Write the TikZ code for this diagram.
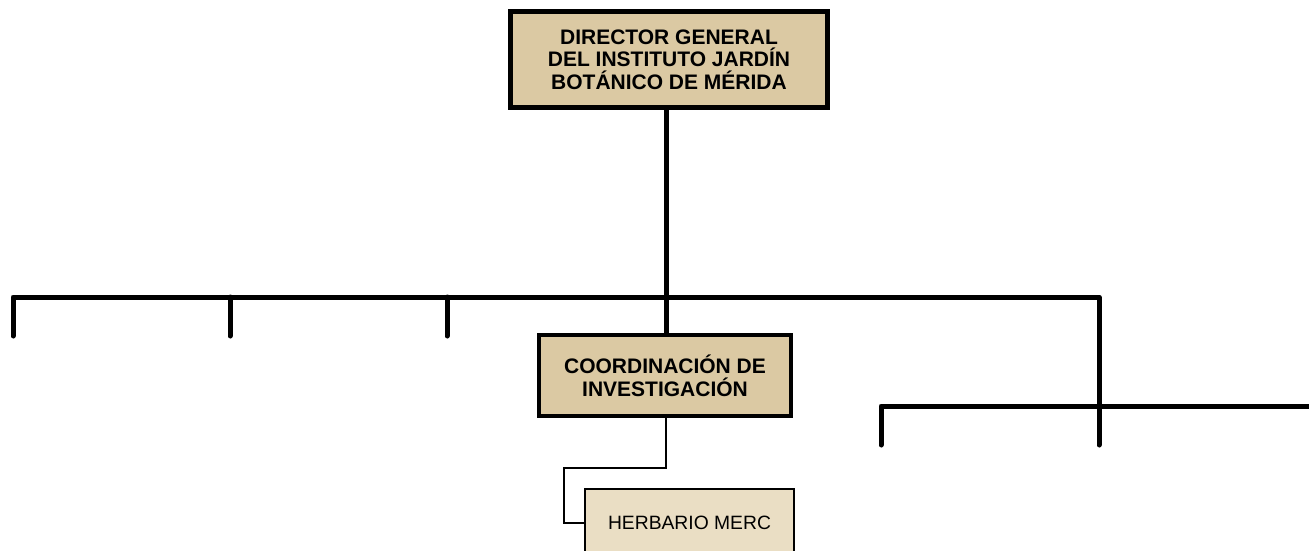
\documentclass[tikz,border=0pt]{standalone}
\usepackage{fontspec}
\setmainfont{Liberation Sans}
\begin{document}
\begin{tikzpicture}[x=1pt,y=-1pt,
  boxa/.style={draw=black, line width=5pt, fill=tanfill, inner sep=0pt, align=center,
    font=\fontsize{21}{22.5}\selectfont\bfseries},
  boxb/.style={draw=black, line width=4pt, fill=tanfill, inner sep=0pt, align=center,
    font=\fontsize{21}{23}\selectfont\bfseries},
  boxc/.style={draw=black, line width=2pt, fill=tanlight, inner sep=0pt, align=center,
    font=\fontsize{19.3}{20}\selectfont},
  thick line/.style={line width=5pt, line cap=round, line join=round},
  thin line/.style={line width=2pt, line join=miter}]
\definecolor{tanfill}{RGB}{219,201,163}
\definecolor{tanlight}{RGB}{234,222,196}
\useasboundingbox (0,0) rectangle (1309,550);
\node[boxa, minimum width=317pt, minimum height=96pt] (top) at (669,59.75)
  {DIRECTOR GENERAL\\DEL INSTITUTO JARDÍN\\BOTÁNICO DE MÉRIDA};
\node[boxb, minimum width=252pt, minimum height=81pt] (coord) at (665,375.5)
  {COORDINACIÓN DE\\INVESTIGACIÓN};
\node[boxc, minimum width=209pt, minimum height=67pt] (herb) at (689.5,522.5)
  {HERBARIO MERC};
\coordinate (j) at (666,297);
\coordinate (hl) at (13,297);
\coordinate (hr) at (1099,297);
\coordinate (d1) at (13,336);
\coordinate (d2t) at (230,297);
\coordinate (d2) at (230,336);
\coordinate (d3t) at (447,297);
\coordinate (d3) at (447,336);
\coordinate (d4) at (1099,445);
\coordinate (s1) at (881,445);
\coordinate (s2) at (881,406);
\coordinate (s3) at (1309,406);
\coordinate (t1) at (666,468);
\coordinate (t2) at (564,468);
\coordinate (t3) at (564,522.5);
\draw[thick line] (top.south -| j) -- (j);
\draw[thick line] (d1) -- (hl) -- (hr) -- (d4);
\draw[thick line] (d2t) -- (d2);
\draw[thick line] (d3t) -- (d3);
\draw[thick line] (j) -- (coord.north -| j);
\draw[thick line] (s1) -- (s2) -- (s3);
\draw[thin line] (coord.south -| t1) -- (t1) -- (t2) -- (t3) -- (herb.west);
\end{tikzpicture}
\end{document}
